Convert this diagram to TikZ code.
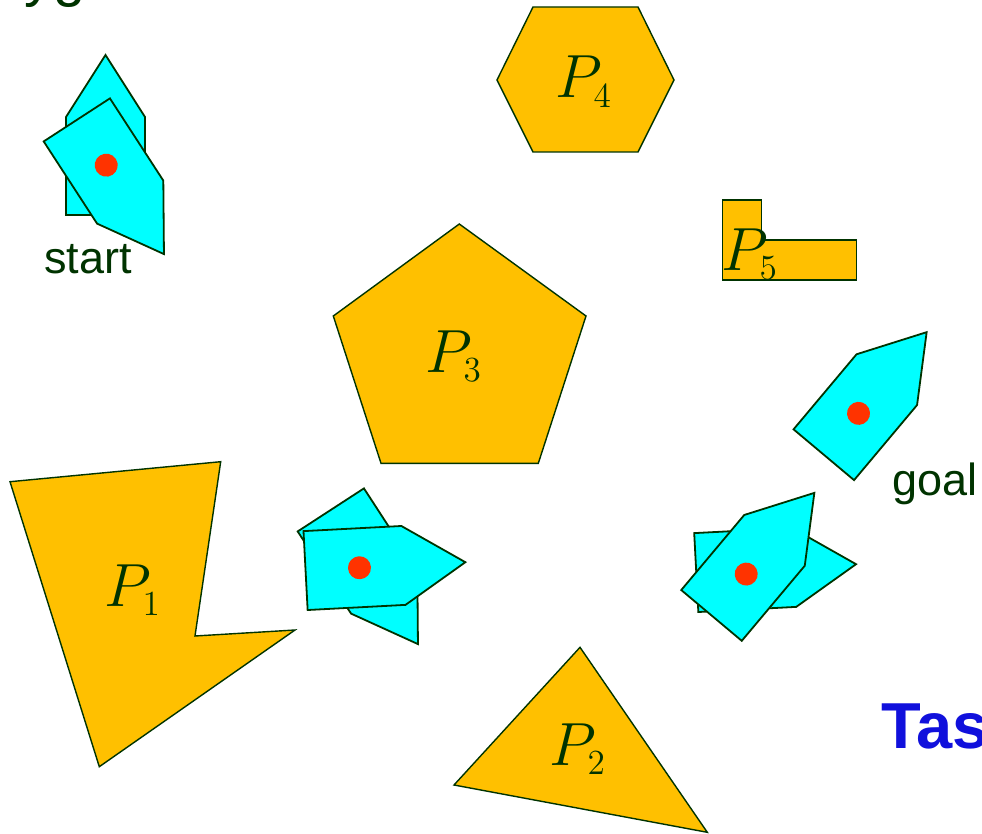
\documentclass[tikz,border=0pt]{standalone}
\usepackage{graphicx}
\usepackage{fontspec}
\newfontfamily\arialfont{Liberation Sans}
\DeclareMathSizes{24.88}{24.88}{14.4}{10}

\definecolor{obst}{RGB}{255,192,0}
\definecolor{robo}{RGB}{0,255,255}
\definecolor{edge}{RGB}{0,51,0}
\definecolor{refpt}{RGB}{255,51,0}
\definecolor{taskblue}{RGB}{16,16,220}

\newcommand{\obstname}[1]{\scalebox{2.45}{\Huge$P_{#1}$}}

\tikzset{
  obstacle/.style={fill=obst, draw=edge, line width=1.4pt, line join=miter},
  robotbody/.style={fill=robo, draw=edge, line width=1.8pt, line join=miter},
  plabel/.style={text=edge, inner sep=0pt, anchor=base west},
  caption/.style={text=edge, inner sep=0pt, anchor=base west,
    font=\arialfont\fontsize{45}{45}\selectfont},
  % rectangular body with a pointed nose, reference point near the middle
  robot/.pic={
    \draw[robotbody] (-39.5,49) -- (-39.5,-49) -- (0,-111) -- (39.5,-49)
      -- (39.5,49) -- cycle;
    \fill[refpt] (0,-5) circle (11.5pt);
  }
}

\begin{document}
\begin{tikzpicture}[x=1pt,y=-1pt]
  \useasboundingbox (0,0) rectangle (982,834);
  \clip (0,0) rectangle (982,834);

  % heading (runs off the top edge)
  \node[caption, font=\arialfont\fontsize{58}{58}\selectfont] (title)
    at (-60,-4) {Polygonal robot};

  % obstacles
  \draw[obstacle] (10,481.7) -- (220.7,461.7) -- (195,636) -- (295,630)
    -- (99.3,766.7) -- cycle;
  \draw[obstacle] (580,647.3) -- (707.3,832.3) -- (454,785) -- cycle;
  \draw[obstacle] (459.3,224) -- (586,316) -- (538.3,463.3) -- (381,463.3)
    -- (333.3,316) -- cycle;
  \draw[obstacle] (533,7) -- (638,7) -- (674,80) -- (638,152) -- (533,152)
    -- (497,80) -- cycle;
  \draw[obstacle] (722.3,200) -- (761.7,200) -- (761.7,240) -- (856.7,240)
    -- (856.7,280) -- (722.3,280) -- cycle;

  \node[plabel] (p1) at (104,606) {\obstname{1}};
  \node[plabel] (p2) at (549,765) {\obstname{2}};
  \node[plabel] (p3) at (425,372) {\obstname{3}};
  \node[plabel] (p4) at (555,98) {\obstname{4}};
  \node[plabel] (p5) at (721,270) {\obstname{5}};

  % robot placements
  \pic (startA) [rotate=0]   at (105.5,166) {robot};
  \pic (startB) [rotate=-147] at (103.5,161) {robot};
  \pic (midA)   [rotate=-147] at (357.5,551) {robot};
  \pic (midB)   [rotate=-87]  at (354.5,568) {robot};
  \pic (rightA) [rotate=-87]  at (745.2,570) {robot};
  \pic (rightB) [rotate=-40]  at (743,577.9) {robot};
  \pic (goalA)  [rotate=-40]  at (855.3,417.2) {robot};

  \node[caption] (start) at (44,273) {start};
  \node[caption] (goal) at (892,495) {goal};

  \node[inner sep=0pt, anchor=base west, text=taskblue,
    font=\arialfont\bfseries\fontsize{65}{65}\selectfont] (task)
    at (881,748) {Task};
\end{tikzpicture}
\end{document}
